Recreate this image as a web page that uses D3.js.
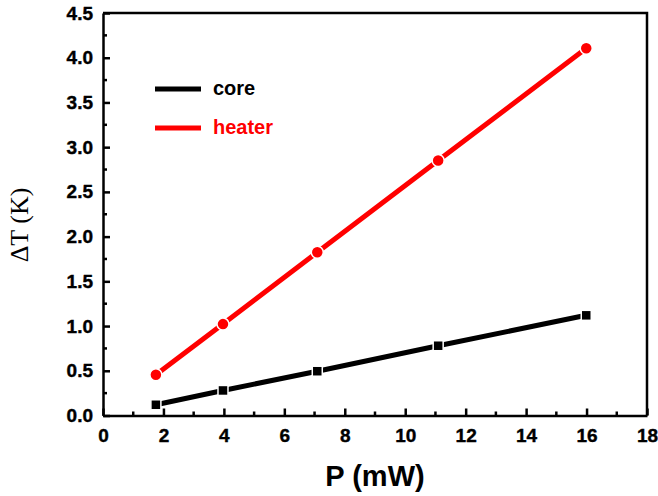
<!DOCTYPE html>
<html>
<head>
<meta charset="utf-8">
<script src="https://cdn.jsdelivr.net/npm/d3@7"></script>
<style>
  body { margin: 0; background: #fff; }
  svg { display: block; }
</style>
</head>
<body>
<svg id="chart" width="658" height="496"></svg>
<script>
const powerValues = [1.75, 3.97, 7.09, 11.09, 15.99];
const coreValues = [0.12, 0.28, 0.495, 0.78, 1.12];
const heaterValues = [0.455, 1.022, 1.825, 2.85, 4.105];
const xTickValues = [0, 2, 4, 6, 8, 10, 12, 14, 16, 18];
const yTickValues = [0.0, 0.5, 1.0, 1.5, 2.0, 2.5, 3.0, 3.5, 4.0, 4.5];
const seriesNames = ["core", "heater"];
const seriesColors = ["#000000", "#ff0000"];

const svg = d3.select("#chart");
const mLeft = 103, mRight = 647, mTop = 13, mBottom = 415.5;

const x = d3.scaleLinear().domain([0, 18]).range([mLeft, mRight]);
const y = d3.scaleLinear().domain([0, 4.5]).range([mBottom, mTop]);

const tickFont = "'Liberation Sans', Arial, sans-serif";

// frame (top, right)
svg.append("path")
  .attr("d", `M${mLeft},${mTop}H${mRight}V${mBottom}`)
  .attr("fill", "none").attr("stroke", "#000").attr("stroke-width", 2.5);

// minor ticks
const xMinor = d3.range(1, 18, 2);
const yMinor = d3.range(0.25, 4.5, 0.5);
svg.append("g").selectAll("line").data(xMinor).join("line")
  .attr("x1", d => x(d)).attr("x2", d => x(d))
  .attr("y1", mBottom).attr("y2", mBottom - 4)
  .attr("stroke", "#000").attr("stroke-width", 2.5);
svg.append("g").selectAll("line").data(yMinor).join("line")
  .attr("y1", d => y(d)).attr("y2", d => y(d))
  .attr("x1", mLeft).attr("x2", mLeft + 4)
  .attr("stroke", "#000").attr("stroke-width", 2.5);

// x axis
const xAxis = d3.axisBottom(x).tickValues(xTickValues).tickFormat(d3.format("d"))
  .tickSizeInner(-7).tickSizeOuter(0).tickPadding(13);
const gx = svg.append("g").attr("transform", `translate(0,${mBottom})`).call(xAxis);
gx.select(".domain").attr("stroke-width", 2.5);
gx.selectAll(".tick line").attr("stroke-width", 2.5);
gx.selectAll("text").attr("font-family", tickFont).attr("font-weight", "bold")
  .attr("font-size", 19).attr("fill", "#000")
  .attr("stroke", "#000").attr("stroke-width", 0.4);

// y axis
const yAxis = d3.axisLeft(y).tickValues(yTickValues).tickFormat(d3.format(".1f"))
  .tickSizeInner(-7).tickSizeOuter(0).tickPadding(10);
const gy = svg.append("g").attr("transform", `translate(${mLeft},0)`).call(yAxis);
gy.select(".domain").attr("stroke-width", 2.5);
gy.selectAll(".tick line").attr("stroke-width", 2.5);
gy.selectAll("text").attr("font-family", tickFont).attr("font-weight", "bold")
  .attr("font-size", 19).attr("fill", "#000")
  .attr("stroke", "#000").attr("stroke-width", 0.4);

// axis titles
svg.append("text")
  .attr("x", (mLeft + mRight) / 2).attr("y", 486)
  .attr("text-anchor", "middle")
  .attr("font-family", tickFont).attr("font-weight", "bold").attr("font-size", 29)
  .text("P (mW)");

svg.append("text")
  .attr("transform", "translate(28,225) rotate(-90)")
  .attr("text-anchor", "middle")
  .attr("font-family", "'Liberation Serif', 'Times New Roman', serif").attr("font-size", 26)
  .text("ΔT (K)");

// series
const series = [coreValues, heaterValues];
const line = d3.line().x((d, i) => x(powerValues[i])).y(d => y(d));
series.forEach((vals, s) => {
  svg.append("path").datum(vals)
    .attr("d", line).attr("fill", "none")
    .attr("stroke", seriesColors[s]).attr("stroke-width", 5);
});
// core squares
svg.append("g").selectAll("rect").data(coreValues).join("rect")
  .attr("x", (d, i) => x(powerValues[i]) - 5).attr("y", d => y(d) - 5)
  .attr("width", 10).attr("height", 10)
  .attr("fill", seriesColors[0]).attr("stroke", "#fff").attr("stroke-width", 1.5);
// heater circles
svg.append("g").selectAll("circle").data(heaterValues).join("circle")
  .attr("cx", (d, i) => x(powerValues[i])).attr("cy", d => y(d))
  .attr("r", 6)
  .attr("fill", seriesColors[1]).attr("stroke", "#fff").attr("stroke-width", 1.5);

// legend
const legend = svg.append("g");
seriesNames.forEach((name, i) => {
  const ly = 89 + i * 39;
  legend.append("line").attr("x1", 155).attr("x2", 201).attr("y1", ly).attr("y2", ly)
    .attr("stroke", seriesColors[i]).attr("stroke-width", 5);
  legend.append("text").attr("x", 213).attr("y", ly + 6)
    .attr("font-family", tickFont).attr("font-weight", "bold").attr("font-size", 20)
    .attr("fill", seriesColors[i]).text(name);
});
</script>
</body>
</html>
